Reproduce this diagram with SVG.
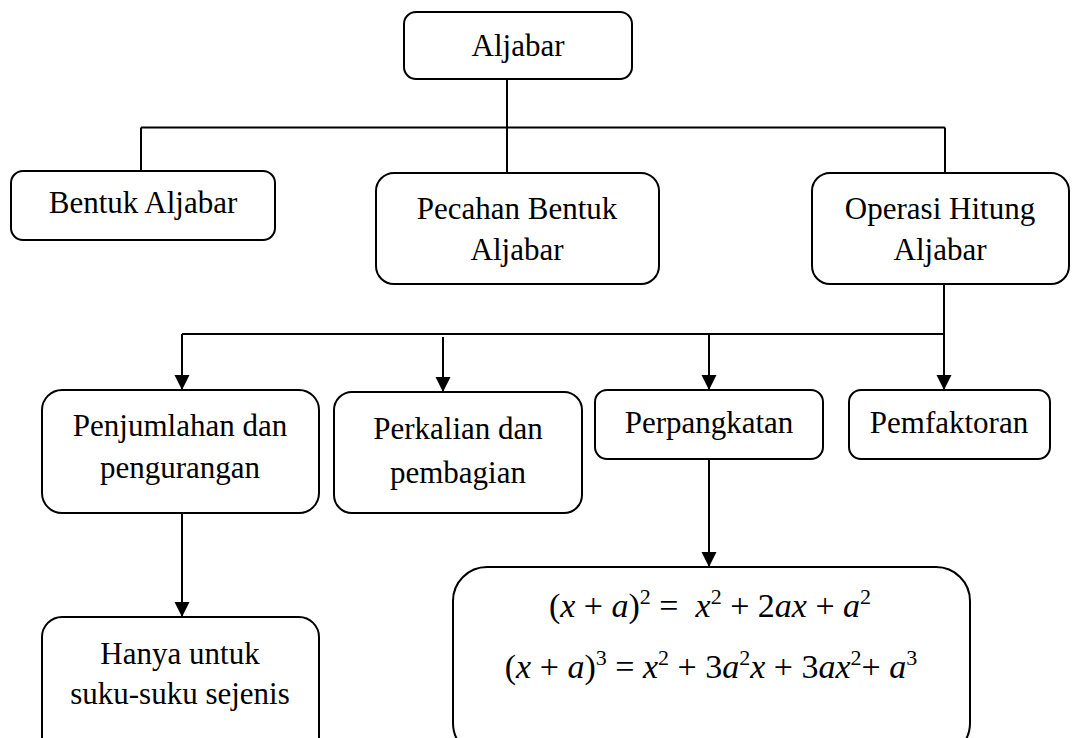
<svg xmlns="http://www.w3.org/2000/svg" width="1092" height="738" viewBox="0 0 1092 738">
<style>
.box{fill:#fff;stroke:#000;stroke-width:2}
.t{font-family:"Liberation Serif","Times New Roman",serif;font-size:31px;fill:#000;text-anchor:middle}
.m{font-family:"Liberation Serif","Times New Roman",serif;font-size:34px;fill:#000;text-anchor:middle}
.i{font-style:italic}
.s{font-size:22px}
.ln{fill:none;stroke:#000;stroke-width:2}
</style>
<defs>
<marker id="ah" viewBox="0 0 10 10" refX="10" refY="5" markerWidth="15" markerHeight="16" markerUnits="userSpaceOnUse" orient="auto">
<path d="M0,0 L10,5 L0,10 Z" fill="#000"/>
</marker>
</defs>
<g id="connectors">
<path class="ln" d="M507,79 V173"/>
<path class="ln" d="M141,127.5 H945"/>
<path class="ln" d="M141,127.5 V171"/>
<path class="ln" d="M945,127.5 V173"/>
<path class="ln" d="M944,284 V334"/>
<path class="ln" d="M182,334 H944"/>
<path class="ln" d="M182,334 V390" marker-end="url(#ah)"/>
<path class="ln" d="M443,337 V392" marker-end="url(#ah)"/>
<path class="ln" d="M709,334 V390" marker-end="url(#ah)"/>
<path class="ln" d="M944,334 V390" marker-end="url(#ah)"/>
<path class="ln" d="M182,513 V617" marker-end="url(#ah)"/>
<path class="ln" d="M709,459 V567" marker-end="url(#ah)"/>
</g>
<g id="aljabar">
<rect class="box" x="404" y="12" width="228" height="67" rx="12"/>
<text class="t" x="518" y="56">Aljabar</text>
</g>
<g id="bentuk">
<rect class="box" x="11" y="171" width="264" height="69" rx="12"/>
<text class="t" x="143" y="213">Bentuk Aljabar</text>
</g>
<g id="pecahan">
<rect class="box" x="376" y="173" width="283" height="111" rx="18"/>
<text class="t" x="517" y="219">Pecahan Bentuk</text>
<text class="t" x="517" y="260">Aljabar</text>
</g>
<g id="operasi">
<rect class="box" x="812" y="173" width="257" height="111" rx="18"/>
<text class="t" x="940" y="219">Operasi Hitung</text>
<text class="t" x="940" y="260">Aljabar</text>
</g>
<g id="penjumlahan">
<rect class="box" x="42" y="390" width="277" height="123" rx="20"/>
<text class="t" x="180" y="436">Penjumlahan dan</text>
<text class="t" x="180" y="478">pengurangan</text>
</g>
<g id="perkalian">
<rect class="box" x="334" y="392" width="248" height="121" rx="18"/>
<text class="t" x="458" y="439">Perkalian dan</text>
<text class="t" x="458" y="483">pembagian</text>
</g>
<g id="perpangkatan">
<rect class="box" x="595" y="390" width="228" height="69" rx="12"/>
<text class="t" x="709" y="433">Perpangkatan</text>
</g>
<g id="pemfaktoran">
<rect class="box" x="849" y="390" width="201" height="69" rx="12"/>
<text class="t" x="949" y="433">Pemfaktoran</text>
</g>
<g id="hanya">
<rect class="box" x="42" y="617" width="277" height="140" rx="20"/>
<text class="t" x="180" y="664">Hanya untuk</text>
<text class="t" x="180" y="704">suku-suku sejenis</text>
</g>
<g id="rumus">
<rect class="box" x="453" y="567" width="517" height="190" rx="34"/>
<text class="m" x="710" y="617">(<tspan class="i">x</tspan> + <tspan class="i">a</tspan>)<tspan class="s" baseline-shift="13">2</tspan> =&#160; <tspan class="i">x</tspan><tspan class="s" baseline-shift="13">2</tspan> + 2<tspan class="i">ax</tspan> + <tspan class="i">a</tspan><tspan class="s" baseline-shift="13">2</tspan></text>
<text class="m" x="711" y="678">(<tspan class="i">x</tspan> + <tspan class="i">a</tspan>)<tspan class="s" baseline-shift="13">3</tspan> = <tspan class="i">x</tspan><tspan class="s" baseline-shift="13">2</tspan> + 3<tspan class="i">a</tspan><tspan class="s" baseline-shift="13">2</tspan><tspan class="i">x</tspan> + 3<tspan class="i">ax</tspan><tspan class="s" baseline-shift="13">2</tspan>+ <tspan class="i">a</tspan><tspan class="s" baseline-shift="13">3</tspan></text>
</g>
</svg>
